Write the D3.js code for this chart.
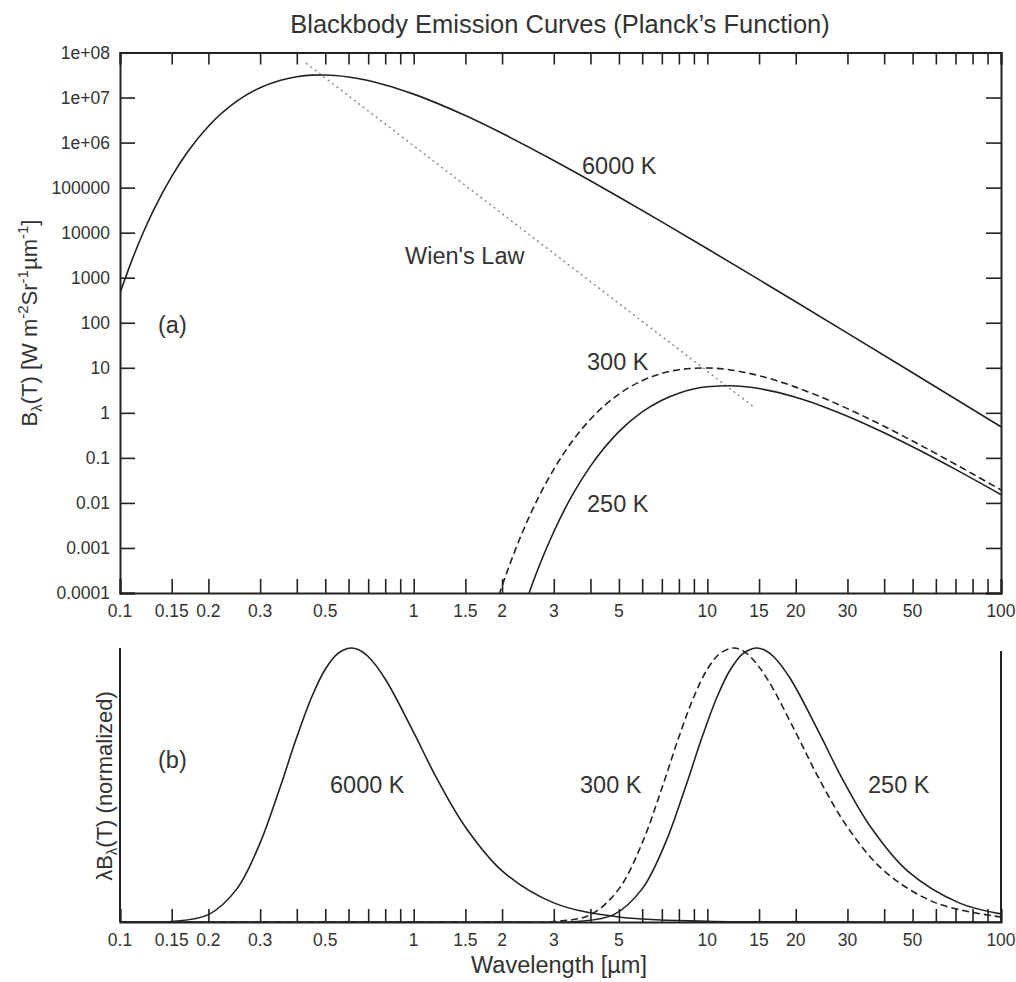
<!DOCTYPE html>
<html><head><meta charset="utf-8">
<script src="https://cdn.jsdelivr.net/npm/d3@7/dist/d3.min.js"></script>
<style>
html,body{margin:0;padding:0;background:#fff;}
svg text{font-family:"Liberation Sans",Arial,sans-serif;fill:#333;}
</style></head>
<body>
<svg id="chart" width="1016" height="982"></svg>
<script>
// ---------- DATA ----------
// Panel (a): spectral radiance B_lambda(T), W m^-2 sr^-1 um^-1
const wl6000 = [0.1, 0.11, 0.12, 0.13, 0.15, 0.17, 0.2, 0.25, 0.3, 0.35, 0.4, 0.45, 0.5, 0.6, 0.7, 0.8, 1, 1.5, 2, 3, 5, 7, 10, 15, 20, 30, 50, 70, 100];
const b6000  = [458, 2519, 10070, 31280, 178100, 627300, 2.31e6, 8.33e6, 1.656e7, 2.40e7, 2.905e7, 3.145e7, 3.176e7, 2.867e7, 2.382e7, 1.908e7, 1.191e7, 3.973e6, 1.606e6, 4.004e5, 61930, 17340, 4395, 904, 292, 58.9, 7.757, 2.033, 0.4907];
const wl300  = [1.9, 2, 2.2, 2.5, 2.8, 3, 3.5, 4, 5, 6, 7, 8, 10, 12, 15, 20, 25, 30, 40, 50, 70, 100];
const b300   = [5.26e-5, 1.433e-4, 7.87e-4, 5.71e-3, 0.02516, 0.0557, 0.2538, 0.722, 2.602, 5.176, 7.507, 9.078, 9.925, 8.958, 6.685, 3.722, 2.099, 1.241, 0.502, 0.2368, 0.0720, 0.01935];
const wl250  = [2.4, 2.5, 2.7, 3, 3.5, 4, 5, 6, 7, 8, 10, 12, 15, 20, 25, 30, 40, 50, 70, 100];
const b250   = [5.76e-5, 1.227e-4, 4.62e-4, 2.294e-3, 0.01643, 0.0655, 0.3822, 1.0456, 1.906, 2.732, 3.783, 3.988, 3.455, 2.219, 1.356, 0.8438, 0.3617, 0.1763, 0.05556, 0.01531];
// Wien's law locus (dotted)
const wienWl = [0.43, 14.5];
const wienB  = [5.8e7, 1.3];

// Panel (b): lambda*B_lambda(T), normalized
const nWl6000 = [0.1, 0.12, 0.15, 0.2, 0.25, 0.3, 0.35, 0.4, 0.45, 0.5, 0.55, 0.6117, 0.65, 0.7, 0.8, 1, 1.2, 1.5, 2, 3, 5, 10, 20, 100];
const n6000   = [0, 0.00007, 0.00155, 0.0268, 0.1209, 0.2886, 0.4883, 0.675, 0.8222, 0.9224, 0.9787, 1, 0.9935, 0.9688, 0.887, 0.6918, 0.523, 0.3464, 0.1866, 0.0698, 0.018, 0.0026, 0.0003, 0];
const nWl300  = [0.1, 1, 2, 3, 4, 5, 6, 7, 8, 9, 10, 11, 12.23, 13, 14, 16, 20, 24, 30, 40, 60, 100];
const n300    = [0, 0, 0, 0.00155, 0.0268, 0.1209, 0.2886, 0.4883, 0.675, 0.8222, 0.9224, 0.9787, 1, 0.9935, 0.9688, 0.887, 0.6918, 0.523, 0.3464, 0.1866, 0.0698, 0.018];
const nWl250  = [0.1, 1, 2.4, 3.6, 4.8, 6, 7.2, 8.4, 9.6, 10.8, 12, 13.2, 14.68, 15.6, 16.8, 19.2, 24, 28.8, 36, 48, 72, 100];
const n250    = [0, 0, 0, 0.00155, 0.0268, 0.1209, 0.2886, 0.4883, 0.675, 0.8222, 0.9224, 0.9787, 1, 0.9935, 0.9688, 0.887, 0.6918, 0.523, 0.3464, 0.1866, 0.0698, 0.0295];

// Ticks
const xTicks = [0.1,0.15,0.2,0.3,0.4,0.5,0.6,0.7,0.8,0.9,1,1.5,2,3,4,5,6,7,8,9,10,15,20,30,40,50,60,70,80,90,100];
const xTickLabels = ["0.1","0.15","0.2","0.3","0.5","1","1.5","2","3","5","10","15","20","30","50","100"];
const yTicks = [1e8,1e7,1e6,1e5,1e4,1e3,100,10,1,0.1,0.01,0.001,0.0001];
const yTickLabels = ["1e+08","1e+07","1e+06","100000","10000","1000","100","10","1","0.1","0.01","0.001","0.0001"];

// ---------- LAYOUT ----------
const svg = d3.select("#chart");
const X0 = 120, X1 = 1001;
const topY0 = 52.5, topY1 = 593;
const botY0 = 648, botY1 = 922;
const ink = "#222";

const x = d3.scaleLog().domain([0.1, 100]).range([X0, X1]);
const yA = d3.scaleLog().domain([1e-4, 1e8]).range([topY1, topY0]);
const yB = d3.scaleLinear().domain([0, 1]).range([botY1, botY0]);

const zip = (a, b) => a.map((v, i) => [v, b[i]]);

// clip paths
const defs = svg.append("defs");
defs.append("clipPath").attr("id","clipA").append("rect")
  .attr("x",X0).attr("y",topY0).attr("width",X1-X0).attr("height",topY1-topY0);
defs.append("clipPath").attr("id","clipB").append("rect")
  .attr("x",X0).attr("y",botY0-5).attr("width",X1-X0).attr("height",botY1-botY0+5);

// Title
svg.append("text").attr("x",560).attr("y",33).attr("text-anchor","middle")
  .style("font-size","25.5px").text("Blackbody Emission Curves (Planck\u2019s Function)");

// ---------- PANEL A ----------
const gA = svg.append("g");
const lineA = d3.line().x(d => x(d[0])).y(d => yA(d[1])).curve(d3.curveMonotoneX);
const curvesA = gA.append("g").attr("clip-path","url(#clipA)");
curvesA.append("path").datum(zip(wienWl, wienB)).attr("d", d3.line().x(d=>x(d[0])).y(d=>yA(d[1])))
  .attr("fill","none").attr("stroke","#8a8a8a").attr("stroke-width",1.5).attr("stroke-dasharray","2,3.5");
curvesA.append("path").datum(zip(wl6000, b6000)).attr("d", lineA)
  .attr("fill","none").attr("stroke",ink).attr("stroke-width",1.6);
curvesA.append("path").datum(zip(wl300, b300)).attr("d", lineA)
  .attr("fill","none").attr("stroke",ink).attr("stroke-width",1.6).attr("stroke-dasharray","7,4");
curvesA.append("path").datum(zip(wl250, b250)).attr("d", lineA)
  .attr("fill","none").attr("stroke",ink).attr("stroke-width",1.6);

// axes panel A
const tl = 14;
const axBottomA = gA.append("g").attr("transform",`translate(0,${topY1})`)
  .call(d3.axisBottom(x).tickValues(xTicks).tickSize(-tl).tickFormat(""));
const axTopA = gA.append("g").attr("transform",`translate(0,${topY0})`)
  .call(d3.axisTop(x).tickValues(xTicks).tickSize(-12).tickFormat(""));
const axLeftA = gA.append("g").attr("transform",`translate(${X0},0)`)
  .call(d3.axisLeft(yA).tickValues(yTicks).tickSize(-15).tickFormat(""));
const axRightA = gA.append("g").attr("transform",`translate(${X1},0)`)
  .call(d3.axisRight(yA).tickValues(yTicks).tickSize(-15).tickFormat(""));
[axBottomA, axTopA, axLeftA, axRightA].forEach(a => {
  a.select(".domain").attr("stroke",ink).attr("stroke-width",2);
  a.selectAll(".tick line").attr("stroke",ink).attr("stroke-width",1.6);
});

// x labels panel A
gA.append("g").selectAll("text").data(xTickLabels).join("text")
  .attr("x", d => x(+d)).attr("y", 617).attr("text-anchor","middle")
  .style("font-size","17.5px").text(d => d);
// y labels
gA.append("g").selectAll("text").data(yTicks).join("text")
  .attr("x", 110).attr("y", d => yA(d)).attr("dy","0.36em").attr("text-anchor","end")
  .style("font-size","17.5px").text((d,i) => yTickLabels[i]);

// y-axis title panel A
const ytA = svg.append("text").attr("transform","translate(37,323) rotate(-90)")
  .attr("text-anchor","middle").style("font-size","22px");
ytA.append("tspan").text("B");
ytA.append("tspan").attr("dy",5).style("font-size","15px").text("\u03bb");
ytA.append("tspan").attr("dy",-5).text("(T) [W m");
ytA.append("tspan").attr("dy",-9).style("font-size","15px").text("-2");
ytA.append("tspan").attr("dy",9).text("Sr");
ytA.append("tspan").attr("dy",-9).style("font-size","15px").text("-1");
ytA.append("tspan").attr("dy",9).text("\u00b5m");
ytA.append("tspan").attr("dy",-9).style("font-size","15px").text("-1");
ytA.append("tspan").attr("dy",9).text("]");

// annotations panel A
const annA = [
  {t:"6000 K", px:582, py:174},
  {t:"Wien's Law", px:405, py:264},
  {t:"(a)", px:158, py:333},
  {t:"300 K", px:587, py:370},
  {t:"250 K", px:587, py:512}
];
gA.append("g").selectAll("text").data(annA).join("text")
  .attr("x",d=>d.px).attr("y",d=>d.py).style("font-size","23.5px").text(d=>d.t);

// ---------- PANEL B ----------
const gB = svg.append("g");
const lineB = d3.line().x(d => x(d[0])).y(d => yB(d[1])).curve(d3.curveCatmullRom.alpha(0.5));
const curvesB = gB.append("g").attr("clip-path","url(#clipB)");
curvesB.append("path").datum(zip(nWl6000, n6000)).attr("d", lineB)
  .attr("fill","none").attr("stroke",ink).attr("stroke-width",1.6);
curvesB.append("path").datum(zip(nWl300, n300)).attr("d", lineB)
  .attr("fill","none").attr("stroke",ink).attr("stroke-width",1.6).attr("stroke-dasharray","7,4");
curvesB.append("path").datum(zip(nWl250, n250)).attr("d", lineB)
  .attr("fill","none").attr("stroke",ink).attr("stroke-width",1.6);

const axBottomB = gB.append("g").attr("transform",`translate(0,${botY1})`)
  .call(d3.axisBottom(x).tickValues(xTicks).tickSize(-13).tickFormat(""));
axBottomB.select(".domain").attr("stroke",ink).attr("stroke-width",2);
axBottomB.selectAll(".tick line").attr("stroke",ink).attr("stroke-width",1.6);
gB.append("line").attr("x1",X0).attr("x2",X0).attr("y1",yB(1)).attr("y2",yB(0))
  .attr("stroke",ink).attr("stroke-width",2);
gB.append("line").attr("x1",X1).attr("x2",X1).attr("y1",yB(1)+3).attr("y2",yB(0))
  .attr("stroke",ink).attr("stroke-width",2);

gB.append("g").selectAll("text").data(xTickLabels).join("text")
  .attr("x", d => x(+d)).attr("y", 946).attr("text-anchor","middle")
  .style("font-size","17.5px").text(d => d);

const ytB = svg.append("text").attr("transform","translate(112,786) rotate(-90)")
  .attr("text-anchor","middle").style("font-size","22px");
ytB.append("tspan").text("\u03bbB");
ytB.append("tspan").attr("dy",5).style("font-size","15px").text("\u03bb");
ytB.append("tspan").attr("dy",-5).text("(T) (normalized)");

svg.append("text").attr("x",559).attr("y",973).attr("text-anchor","middle")
  .style("font-size","23.5px").text("Wavelength [\u00b5m]");

const annB = [
  {t:"(b)", px:158, py:768},
  {t:"6000 K", px:330, py:793},
  {t:"300 K", px:580, py:793},
  {t:"250 K", px:868, py:793}
];
gB.append("g").selectAll("text").data(annB).join("text")
  .attr("x",d=>d.px).attr("y",d=>d.py).style("font-size","23.5px").text(d=>d.t);
</script>
</body></html>
